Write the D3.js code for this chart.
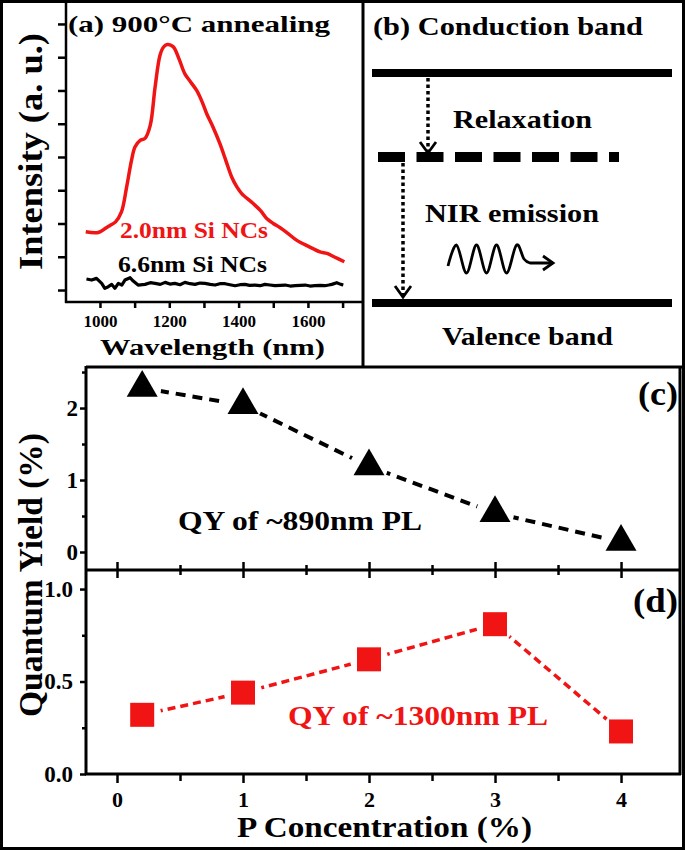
<!DOCTYPE html>
<html>
<head>
<meta charset="utf-8">
<script src="https://cdn.jsdelivr.net/npm/d3@7"></script>
<style>
  body { margin: 0; background: #fff; }
  svg { display: block; font-family: "Liberation Serif", "Times New Roman", serif; font-weight: bold; }
</style>
</head>
<body>
<div id="chart"></div>
<script>
// ---- (a) PL spectra, 900C annealing ----
const redSpectrum = [
  [959, 1.75], [995, 1.73], [1015, 1.85], [1030, 1.95], [1045, 2.05], [1062, 2.35],
  [1077, 3.1], [1091, 3.9], [1101, 4.3], [1116, 4.5], [1130, 4.56], [1145, 4.95],
  [1159, 6.1], [1173, 7.05], [1183, 7.3], [1194, 7.38], [1211, 7.32], [1228, 6.95],
  [1245, 6.5], [1262, 6.25], [1279, 6.0], [1295, 5.65], [1308, 5.3], [1326, 4.9],
  [1346, 4.4], [1363, 3.9], [1380, 3.4], [1395, 3.1], [1409, 2.9], [1442, 2.6],
  [1464, 2.38], [1481, 2.15], [1500, 2.0], [1519, 1.88], [1540, 1.72], [1567, 1.5],
  [1600, 1.32], [1635, 1.15], [1655, 1.1], [1675, 1.0], [1705, 0.85]
];
const blackSpectrum = [
  [961, 0.33], [976, 0.30], [990, 0.35], [1005, 0.20], [1014, 0.05], [1024, 0.10],
  [1034, 0.17], [1043, 0.05], [1053, 0.20], [1063, 0.15], [1072, 0.30], [1087, 0.37],
  [1096, 0.27], [1110, 0.15], [1130, 0.17], [1145, 0.22], [1159, 0.20], [1174, 0.17],
  [1188, 0.23], [1202, 0.18], [1216, 0.20], [1231, 0.16], [1245, 0.23], [1260, 0.19],
  [1274, 0.17], [1289, 0.21], [1303, 0.20], [1318, 0.17], [1332, 0.15], [1346, 0.19],
  [1361, 0.19], [1375, 0.16], [1390, 0.13], [1404, 0.16], [1418, 0.17], [1432, 0.14],
  [1447, 0.15], [1462, 0.13], [1476, 0.17], [1490, 0.15], [1505, 0.13], [1520, 0.14],
  [1534, 0.15], [1549, 0.12], [1563, 0.13], [1578, 0.14], [1592, 0.15], [1606, 0.12],
  [1620, 0.13], [1635, 0.14], [1649, 0.13], [1660, 0.15], [1669, 0.17], [1683, 0.22],
  [1695, 0.17], [1702, 0.15]
];
const wlTicks = [1000, 1100, 1200, 1300, 1400, 1500, 1600, 1700];
const wlLabels = [1000, 1200, 1400, 1600];
const intensityTicks = [0, 1, 2, 3, 4, 5, 6, 7, 8];

// ---- (b) energy levels (relative) ----
const levelNames = ["Conduction band", "defect", "Valence band"];
const levelEnergy = [1, 0.635, 0];

// ---- (c), (d) quantum yield vs P concentration ----
const pConc = [0.2, 1, 2, 3, 4];
const qy890 = [2.28, 2.04, 1.19, 0.54, 0.14];
const qy1300 = [0.32, 0.44, 0.62, 0.81, 0.23];
const pTicks = [0, 1, 2, 3, 4];
const pMinor = [0.5, 1.5, 2.5, 3.5];
const qyCTicks = [0, 1, 2];
const qyCMinor = [0.5, 1.5, 2.5];
const qyDTicks = [0, 0.5, 1.0];
const qyDMinor = [0.25, 0.75];

const W = 685, H = 851;
const RED = "#f01414";

const svg = d3.select("#chart").append("svg")
  .attr("width", W).attr("height", H);
const defs = svg.append("defs");

function addText(txt, x, y, size, len, color = "#000", anchor = "start", rotate = false) {
  const t = svg.append("text")
    .attr("x", x).attr("y", y)
    .attr("font-size", size)
    .attr("fill", color)
    .attr("text-anchor", anchor)
    .text(txt);
  if (len) t.attr("textLength", len).attr("lengthAdjust", "spacingAndGlyphs");
  if (rotate) t.attr("transform", `rotate(-90 ${x} ${y})`);
  return t;
}

// d3 axis puts sans-serif on the group, drop it so the serif from css wins
function styleAxis(g, width) {
  g.attr("font-family", null).attr("font-size", null);
  g.select(".domain").remove();
  g.selectAll(".tick line").attr("stroke", "#000").attr("stroke-width", width);
  g.selectAll(".tick text").attr("fill", "#000");
}

function hline(x1, x2, y, w = 3) {
  svg.append("line").attr("x1", x1).attr("x2", x2).attr("y1", y).attr("y2", y)
    .attr("stroke", "#000").attr("stroke-width", w);
}
function vline(x, y1, y2, w = 3) {
  svg.append("line").attr("x1", x).attr("x2", x).attr("y1", y1).attr("y2", y2)
    .attr("stroke", "#000").attr("stroke-width", w);
}

// ================= panel (a) =================
const xA = d3.scaleLinear().domain([902, 1756]).range([66, 362]);
const yA = d3.scaleLinear().domain([-0.36, 8.63]).range([302, 3]);

const axA = svg.append("g").attr("transform", "translate(0,302)")
  .call(d3.axisBottom(xA).tickValues(wlTicks).tickSize(6)
    .tickFormat(d => wlLabels.includes(d) ? d : ""));
styleAxis(axA, 2.5);
axA.selectAll(".tick text").attr("y", 25).attr("dy", 0).attr("font-size", 17);

const ayA = svg.append("g").attr("transform", "translate(66,0)")
  .call(d3.axisLeft(yA).tickValues(intensityTicks).tickSize(8).tickFormat(""));
styleAxis(ayA, 2.5);

const lineA = d3.line().x(d => xA(d[0])).y(d => yA(d[1]));
svg.append("path").datum(blackSpectrum)
  .attr("d", lineA)
  .attr("fill", "none").attr("stroke", "#000").attr("stroke-width", 3.2)
  .attr("stroke-linejoin", "round");
svg.append("path").datum(redSpectrum)
  .attr("d", lineA.curve(d3.curveCatmullRom))
  .attr("fill", "none").attr("stroke", RED).attr("stroke-width", 3.5)
  .attr("stroke-linejoin", "round");

vline(66, 2, 303, 2.5);
hline(65, 363, 302, 2.5);

addText("(a) 900°C annealing", 68, 32, 24, 262);
addText("2.0nm Si NCs", 120, 238, 23, 148, RED);
addText("6.6nm Si NCs", 118, 272, 23, 149);
addText("Intensity (a. u.)", 42, 270, 34, 237, "#000", "start", true);
addText("Wavelength (nm)", 100, 355, 24, 225);

// ================= panel (b) =================
const yB = d3.scaleLinear().domain([0, 1]).range([303, 73]);

svg.selectAll("line.level")
  .data(levelEnergy)
  .join("line")
  .attr("class", "level")
  .attr("x1", (d, i) => i === 1 ? 378 : 372)
  .attr("x2", (d, i) => i === 1 ? 619 : 672)
  .attr("y1", d => yB(d)).attr("y2", d => yB(d))
  .attr("stroke", "#000")
  .attr("stroke-width", (d, i) => i === 1 ? 10 : 8)
  .attr("stroke-dasharray", (d, i) => i === 1 ? "27,11.5" : null);

function dottedArrow(x, y1, y2) {
  svg.append("line").attr("x1", x).attr("x2", x).attr("y1", y1).attr("y2", y2 - 2)
    .attr("stroke", "#000").attr("stroke-width", 3.5).attr("stroke-dasharray", "3.5,3");
  svg.append("polyline")
    .attr("points", `${x - 8},${y2 - 11} ${x},${y2} ${x + 8},${y2 - 11}`)
    .attr("fill", "none").attr("stroke", "#000").attr("stroke-width", 2.8);
}
dottedArrow(428, yB(levelEnergy[0]) + 5, yB(levelEnergy[1]) - 4);
dottedArrow(403, yB(levelEnergy[1]) + 6, yB(levelEnergy[2]) - 6);

// photon wiggle
const wave = [[448, 266], [456.5, 245], [466.5, 273], [476.5, 245], [486.5, 273],
  [496.5, 245], [506.5, 273], [516.5, 245], [524, 259], [530, 263]];
svg.append("path")
  .attr("d", d3.line().curve(d3.curveCardinal)(wave) + " L553,263")
  .attr("fill", "none").attr("stroke", "#000").attr("stroke-width", 2.8)
  .attr("stroke-linejoin", "round");
svg.append("polyline").attr("points", "543,256 553,263 543,270")
  .attr("fill", "none").attr("stroke", "#000").attr("stroke-width", 2.8);

addText("(b) Conduction band", 373, 35, 25, 270);
addText("Relaxation", 453, 128, 25, 139);
addText("NIR emission", 425, 222, 25, 174);
addText("Valence band", 442, 345, 25, 171);

// ================= panels (c), (d) =================
const xC = d3.scaleLinear().domain([-0.246, 4.468]).range([86, 680]);
const yC = d3.scaleLinear().domain([-0.25, 2.57]).range([570, 367]);
const yD = d3.scaleLinear().domain([0, 1.103]).range([774, 570]);

// left axes
const ayC = svg.append("g").attr("transform", "translate(86,0)")
  .call(d3.axisLeft(yC).tickValues(qyCTicks).tickSize(6).tickFormat(d3.format("d")));
styleAxis(ayC, 2.5);
ayC.selectAll(".tick text").attr("x", -8).attr("font-size", 23);
styleAxis(svg.append("g").attr("transform", "translate(86,0)")
  .call(d3.axisLeft(yC).tickValues(qyCMinor).tickSize(4).tickFormat("")), 2.5);

const ayD = svg.append("g").attr("transform", "translate(86,0)")
  .call(d3.axisLeft(yD).tickValues(qyDTicks).tickSize(6).tickFormat(d3.format(".1f")));
styleAxis(ayD, 2.5);
ayD.selectAll(".tick text").attr("x", -13).attr("font-size", 23);
styleAxis(svg.append("g").attr("transform", "translate(86,0)")
  .call(d3.axisLeft(yD).tickValues(qyDMinor).tickSize(4).tickFormat("")), 2.5);

// shared middle axis ticks (both directions)
[d3.axisBottom, d3.axisTop].forEach(ax => {
  styleAxis(svg.append("g").attr("transform", "translate(0,570)")
    .call(ax(xC).tickValues(pTicks).tickSize(8).tickFormat("")), 2.5);
  styleAxis(svg.append("g").attr("transform", "translate(0,570)")
    .call(ax(xC).tickValues(pMinor).tickSize(5).tickFormat("")), 2.5);
});

// bottom axis
const axD = svg.append("g").attr("transform", "translate(0,774)")
  .call(d3.axisBottom(xC).tickValues(pTicks).tickSize(9).tickFormat(d3.format("d")));
styleAxis(axD, 2.5);
axD.selectAll(".tick text").attr("y", 33).attr("dy", 0).attr("font-size", 22);
styleAxis(svg.append("g").attr("transform", "translate(0,774)")
  .call(d3.axisBottom(xC).tickValues(pMinor).tickSize(7).tickFormat("")), 2.5);

// data lines with gaps around symbols
function gapMask(id, pts) {
  const m = defs.append("mask").attr("id", id)
    .attr("maskUnits", "userSpaceOnUse")
    .attr("x", 0).attr("y", 0).attr("width", W).attr("height", H);
  m.append("rect").attr("width", W).attr("height", H).attr("fill", "#fff");
  m.selectAll("circle").data(pts).join("circle")
    .attr("cx", d => d[0]).attr("cy", d => d[1]).attr("r", 19).attr("fill", "#000");
}

const ptsC = pConc.map((p, i) => [xC(p), yC(qy890[i])]);
const ptsD = pConc.map((p, i) => [xC(p), yD(qy1300[i])]);
gapMask("gapC", ptsC);
gapMask("gapD", ptsD);

svg.append("path").datum(ptsC)
  .attr("d", d3.line())
  .attr("mask", "url(#gapC)")
  .attr("fill", "none").attr("stroke", "#000").attr("stroke-width", 4)
  .attr("stroke-dasharray", "10,7");
svg.append("path").datum(ptsD)
  .attr("d", d3.line())
  .attr("mask", "url(#gapD)")
  .attr("fill", "none").attr("stroke", RED).attr("stroke-width", 3.5)
  .attr("stroke-dasharray", "8,5");

svg.selectAll("path.tri").data(ptsC).join("path")
  .attr("class", "tri")
  .attr("transform", d => `translate(${d[0]},${d[1]})`)
  .attr("d", d3.symbol(d3.symbolTriangle, 416))
  .attr("fill", "#000");
svg.selectAll("path.sq").data(ptsD).join("path")
  .attr("class", "sq")
  .attr("transform", d => `translate(${d[0]},${d[1]})`)
  .attr("d", d3.symbol(d3.symbolSquare, 576))
  .attr("fill", RED);

// frames
vline(86, 366, 775);
vline(680, 366, 775);
hline(86, 683, 367);
hline(86, 680, 570);
hline(85, 681, 774);

// outer border and divider
svg.append("rect").attr("x", 1.5).attr("y", 1.5).attr("width", 682).attr("height", 847)
  .attr("fill", "none").attr("stroke", "#000").attr("stroke-width", 3);
vline(363, 1.5, 367);

addText("(c)", 638, 405, 34, 40);
addText("(d)", 633, 612, 34, 45);
addText("QY of ~890nm PL", 178, 530, 27, 244);
addText("QY of ~1300nm PL", 288, 725, 27, 260, RED);
addText("Quantum Yield (%)", 42, 717, 34, 284, "#000", "start", true);
addText("P Concentration (%)", 237, 837, 29, 295);
</script>
</body>
</html>
